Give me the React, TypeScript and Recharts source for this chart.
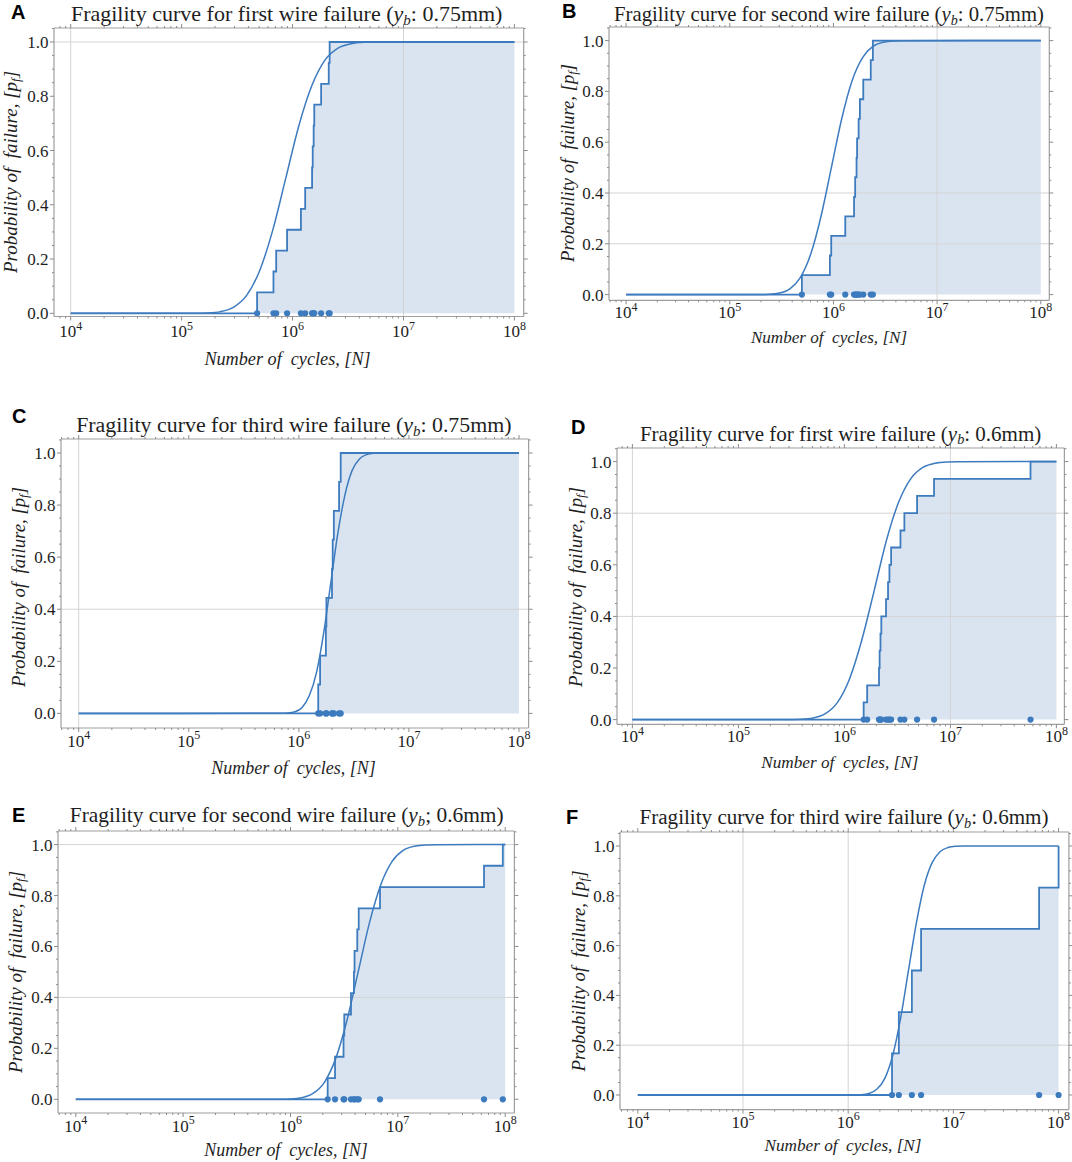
import React from 'react';
import { ComposedChart, XAxis, YAxis, Line, Area, Scatter, ReferenceLine } from 'recharts';

// probabilities reached by the fitted curves at the cycle counts listed in *_FIT
const FIT_PF = [0, 0.0002, 0.0013, 0.0062, 0.0228, 0.0668, 0.1587, 0.3085, 0.5, 0.6915, 0.8413, 0.9332, 0.9772, 0.9938, 0.9987, 0.9998, 1];

// A: first wire, 0.75mm
const A_CYCLES = [4.79e5, 6.73e5, 7.12e5, 8.93e5, 1.19e6, 1.3e6, 1.5e6, 1.52e6, 1.55e6, 1.57e6, 1.81e6, 2.12e6, 2.16e6];
const A_PF = [0.077, 0.154, 0.231, 0.308, 0.385, 0.462, 0.538, 0.615, 0.692, 0.769, 0.846, 0.923, 1.0];
const A_FIT = [1e4, 1.31e5, 1.72e5, 2.25e5, 2.95e5, 3.87e5, 5.07e5, 6.65e5, 8.71e5, 1.14e6, 1.5e6, 1.96e6, 2.57e6, 3.37e6, 4.42e6, 5.79e6, 1e8];

// B: second wire, 0.75mm
const B_CYCLES = [4.96e5, 9.24e5, 9.52e5, 1.3e6, 1.58e6, 1.62e6, 1.67e6, 1.69e6, 1.75e6, 1.8e6, 1.94e6, 2.29e6, 2.4e6];
const B_PF = [0.077, 0.154, 0.231, 0.308, 0.385, 0.462, 0.538, 0.615, 0.692, 0.769, 0.846, 0.923, 1.0];
const B_FIT = [1e4, 1.91e5, 2.4e5, 3.02e5, 3.8e5, 4.79e5, 6.03e5, 7.59e5, 9.55e5, 1.2e6, 1.51e6, 1.91e6, 2.4e6, 3.02e6, 3.8e6, 4.79e6, 1e8];

// C: third wire, 0.75mm
const C_CYCLES = [1.5e6, 1.56e6, 1.76e6, 1.78e6, 2.0e6, 2.03e6, 2.08e6, 2.32e6, 2.4e6];
const C_PF = [0.111, 0.222, 0.333, 0.444, 0.556, 0.667, 0.778, 0.889, 1.0];
const C_FIT = [1e4, 6.84e5, 7.94e5, 9.23e5, 1.07e6, 1.24e6, 1.45e6, 1.68e6, 1.95e6, 2.26e6, 2.63e6, 3.05e6, 3.55e6, 4.12e6, 4.79e6, 5.56e6, 1e8];

// D: first wire, 0.6mm
const D_CYCLES = [1.52e6, 1.64e6, 2.12e6, 2.15e6, 2.19e6, 2.23e6, 2.47e6, 2.58e6, 2.66e6, 2.76e6, 3.38e6, 3.68e6, 4.85e6, 7.01e6, 5.7e7];
const D_PF = [0.067, 0.133, 0.2, 0.267, 0.333, 0.4, 0.467, 0.533, 0.6, 0.667, 0.733, 0.8, 0.867, 0.933, 1.0];
const D_FIT = [1e4, 2.99e5, 3.89e5, 5.07e5, 6.61e5, 8.61e5, 1.12e6, 1.46e6, 1.91e6, 2.48e6, 3.24e6, 4.22e6, 5.5e6, 7.16e6, 9.33e6, 1.22e7, 1e8];

// E: second wire, 0.6mm
const E_CYCLES = [2.22e6, 2.6e6, 3.12e6, 3.17e6, 3.66e6, 3.9e6, 3.95e6, 4.19e6, 4.32e6, 6.82e6, 6.35e7, 9.5e7];
const E_PF = [0.083, 0.167, 0.25, 0.333, 0.417, 0.5, 0.583, 0.667, 0.75, 0.833, 0.917, 1.0];
const E_FIT = [1e4, 7.85e5, 1.0e6, 1.27e6, 1.62e6, 2.07e6, 2.63e6, 3.35e6, 4.27e6, 5.43e6, 6.92e6, 8.81e6, 1.12e7, 1.43e7, 1.82e7, 2.32e7, 1e8];

// F: third wire, 0.6mm
const F_CYCLES = [2.61e6, 3.03e6, 4.03e6, 4.93e6, 6.53e7, 1.0e8];
const F_PF = [0.167, 0.333, 0.5, 0.667, 0.833, 1.0];
const F_FIT = [1e4, 1.12e6, 1.33e6, 1.58e6, 1.87e6, 2.23e6, 2.65e6, 3.15e6, 3.74e6, 4.45e6, 5.28e6, 6.28e6, 7.46e6, 8.87e6, 1.05e7, 1.25e7, 1e8];

const X_START = 1e4;
const X_END = 1e8;
const X_DECADES = [1e3, 1e4, 1e5, 1e6, 1e7, 1e8];
const X_MINOR = [1, 2, 3, 4, 5, 6, 7, 8, 9];
const Y_TICKS = [0, 0.05, 0.1, 0.15, 0.2, 0.25, 0.3, 0.35, 0.4, 0.45, 0.5, 0.55, 0.6, 0.65, 0.7, 0.75, 0.8, 0.85, 0.9, 0.95, 1.0, 1.05];

const BLUE = '#3d7bbf';
const FILL = '#6690c4';
const FRAME = '#9e9e9e';
const TICK = '#8c8c8c';
const GRID = '#d4d4d4';
const INK = '#1e1e1e';
const SERIF = '"Liberation Serif", "DejaVu Serif", serif';
const SANS = '"Liberation Sans", Arial, sans-serif';

// each panel came from a separately scaled image, so text sizes differ slightly
const PANELS = [
  {
    letter: 'A', order: 'first', size: '0.75mm', sep: ':', cycles: A_CYCLES, pf: A_PF, fit: A_FIT,
    fx0: 53.6, fx1: 523.3, fy0: 28, fy1: 316.5, x4: 70.3, x8: 514, y1: 42, y0: 313.3,
    vGrid: [1e4, 1e7], hGrid: [1.0], labelDy: 21,
    titleSize: 22, xTitleSize: 18.2, yTitleSize: 19,
    letterPos: [11, 12], titlePos: [286.7, 14], xTitlePos: [287.5, 359], yTitlePos: [10.3, 171.7],
  },
  {
    letter: 'B', order: 'second', size: '0.75mm', sep: ':', cycles: B_CYCLES, pf: B_PF, fit: B_FIT,
    fx0: 608.7, fx1: 1049, fy0: 26.7, fy1: 300, x4: 625.8, x8: 1040.5, y1: 40.3, y0: 294.3,
    vGrid: [1e7], hGrid: [0.2, 0.4], labelDy: 18,
    titleSize: 20.7, xTitleSize: 17.1, yTitleSize: 18.6,
    letterPos: [562, 11], titlePos: [829, 14], xTitlePos: [829, 337.5], yTitlePos: [568.4, 163.3],
  },
  {
    letter: 'C', order: 'third', size: '0.75mm', sep: ':', cycles: C_CYCLES, pf: C_PF, fit: C_FIT,
    fx0: 60.8, fx1: 528.4, fy0: 439.3, fy1: 728.3, x4: 78.5, x8: 518.8, y1: 453.3, y0: 713.7,
    vGrid: [1e4], hGrid: [0.4], labelDy: 19,
    titleSize: 21.9, xTitleSize: 18, yTitleSize: 18.8,
    letterPos: [12, 416], titlePos: [293.9, 425], xTitlePos: [293.5, 767.5], yTitlePos: [18.8, 586.7],
  },
  {
    letter: 'D', order: 'first', size: '0.6mm', sep: ':', cycles: D_CYCLES, pf: D_PF, fit: D_FIT,
    fx0: 616.6, fx1: 1064, fy0: 447.7, fy1: 724, x4: 632, x8: 1056, y1: 461.3, y0: 719.3,
    vGrid: [1e4, 1e7], hGrid: [0.4, 0.8], labelDy: 18,
    titleSize: 21, xTitleSize: 17.2, yTitleSize: 18.8,
    letterPos: [571, 426.7], titlePos: [840.6, 434], xTitlePos: [839.8, 762.5], yTitlePos: [576.3, 586.7],
  },
  {
    letter: 'E', order: 'second', size: '0.6mm', sep: ';', cycles: E_CYCLES, pf: E_PF, fit: E_FIT,
    fx0: 58, fx1: 514.4, fy0: 830.7, fy1: 1112.7, x4: 75.8, x8: 505.2, y1: 844.3, y0: 1099,
    vGrid: [], hGrid: [1.0, 0.4], labelDy: 19,
    titleSize: 21.4, xTitleSize: 17.9, yTitleSize: 19,
    letterPos: [12, 815], titlePos: [286.7, 816], xTitlePos: [286, 1151], yTitlePos: [15.4, 971.7],
  },
  {
    letter: 'F', order: 'third', size: '0.6mm', sep: ':', cycles: F_CYCLES, pf: F_PF, fit: F_FIT,
    fx0: 619.6, fx1: 1068.5, fy0: 831.7, fy1: 1109.3, x4: 637.4, x8: 1058.2, y1: 845.7, y0: 1094.7,
    vGrid: [1e5, 1e6], hGrid: [0.2], labelDy: 18,
    titleSize: 21.1, xTitleSize: 17.2, yTitleSize: 18.9,
    letterPos: [566, 817], titlePos: [844, 817.5], xTitlePos: [843, 1145.8], yTitlePos: [578.6, 970.8],
  },
];

const isDecade = (v: number) => Math.abs(Math.log10(v) - Math.round(Math.log10(v))) < 1e-6;
const isMajorY = (v: number) => Math.abs(v * 5 - Math.round(v * 5)) < 1e-6;

const BottomTick = ({ x, y, payload, labelDy }: any) => {
  const v = payload.value;
  const major = isDecade(v);
  return (
    <g>
      <line x1={x} x2={x} y1={y} y2={y + (major ? 4 : 2)} stroke={TICK} />
      {major && (
        <text x={x} y={y + labelDy} textAnchor="middle" fontSize={17} fill={INK} fontFamily={SERIF}>
          10<tspan dy={-7.5} fontSize={12}>{Math.round(Math.log10(v))}</tspan>
        </text>
      )}
    </g>
  );
};

const TopTick = ({ x, y, payload }: any) => {
  const major = isDecade(payload.value);
  return <line x1={x} x2={x} y1={y} y2={y - (major ? 4 : 2)} stroke={TICK} />;
};

const LeftTick = ({ x, y, payload }: any) => {
  const v = payload.value;
  const major = isMajorY(v);
  return (
    <g>
      <line x1={x} x2={x - (major ? 4 : 2)} y1={y} y2={y} stroke={TICK} />
      {major && v <= 1.0001 && (
        <text x={x - 5.5} y={y + 6} textAnchor="end" fontSize={17} fill={INK} fontFamily={SERIF}>
          {v.toFixed(1)}
        </text>
      )}
    </g>
  );
};

const RightTick = ({ x, y, payload }: any) => {
  const major = isMajorY(payload.value);
  return <line x1={x} x2={x + (major ? 4 : 2)} y1={y} y2={y} stroke={TICK} />;
};

const Dot = (props: any) => <circle cx={props.cx} cy={props.cy} r={3.1} fill={BLUE} />;

const Sub = ({ children }: { children: React.ReactNode }) => (
  <span style={{ fontSize: '0.68em', verticalAlign: '-0.28em', lineHeight: 0 }}>{children}</span>
);

const centered = (pos: number[], extra: React.CSSProperties = {}): React.CSSProperties => ({
  position: 'absolute',
  left: pos[0],
  top: pos[1],
  transform: 'translate(-50%, -50%)',
  whiteSpace: 'nowrap',
  lineHeight: 1,
  color: INK,
  ...extra,
});

function Panel({ p }: { p: (typeof PANELS)[number] }) {
  const L = 60, R = 10, T = 10, B = 36;
  const w = p.fx1 - p.fx0;
  const h = p.fy1 - p.fy0;
  const dec = (p.x8 - p.x4) / 4;
  const xDomain = [10 ** (4 - (p.x4 - p.fx0) / dec), 10 ** (8 + (p.fx1 - p.x8) / dec)];
  const unit = p.y0 - p.y1;
  const yDomain = [-(p.fy1 - p.y0) / unit, 1 + (p.y1 - p.fy0) / unit];

  const xTicks = X_DECADES.flatMap((d) => X_MINOR.map((m) => d * m)).filter(
    (v) => v >= xDomain[0] && v <= xDomain[1]
  );
  const yTicks = Y_TICKS.filter((v) => v >= yDomain[0] && v <= yDomain[1]);

  const failures = p.cycles.map((c, i) => ({ x: c, y: p.pf[i] }));
  const last = p.cycles[p.cycles.length - 1];
  const tail = last < X_END ? [{ x: X_END, y: 1 }] : [];
  const stepData = [{ x: X_START, y: 0 }, ...failures, ...tail];
  const areaData = [...failures, ...tail];
  const fitData = p.fit.map((c, i) => ({ x: c, y: FIT_PF[i] }));
  const dotData = p.cycles.map((c) => ({ x: c, y: 0 }));

  return (
    <>
      <div style={{ position: 'absolute', left: p.fx0 - L, top: p.fy0 - T }}>
        <ComposedChart width={w + L + R} height={h + T + B} margin={{ top: 0, right: 0, bottom: 0, left: 0 }}>
          <XAxis
            dataKey="x" type="number" scale="log" domain={xDomain} allowDataOverflow
            ticks={xTicks} interval={0} height={B} tickSize={0} tickMargin={0}
            axisLine={{ stroke: FRAME, strokeWidth: 1.2 }} tickLine={false}
            tick={(props: any) => <BottomTick {...props} labelDy={p.labelDy} />}
          />
          <XAxis
            xAxisId="top" orientation="top" dataKey="x" type="number" scale="log" domain={xDomain}
            allowDataOverflow ticks={xTicks} interval={0} height={T} tickSize={0} tickMargin={0}
            axisLine={{ stroke: FRAME, strokeWidth: 1.2 }} tickLine={false}
            tick={(props: any) => <TopTick {...props} />}
          />
          <YAxis
            type="number" domain={yDomain} allowDataOverflow ticks={yTicks} interval={0} width={L}
            tickSize={0} tickMargin={0} axisLine={{ stroke: FRAME, strokeWidth: 1.2 }} tickLine={false}
            tick={(props: any) => <LeftTick {...props} />}
          />
          <YAxis
            yAxisId="right" orientation="right" type="number" domain={yDomain} allowDataOverflow
            ticks={yTicks} interval={0} width={R} tickSize={0} tickMargin={0}
            axisLine={{ stroke: FRAME, strokeWidth: 1.2 }} tickLine={false}
            tick={(props: any) => <RightTick {...props} />}
          />
          {p.vGrid.map((v) => (
            <ReferenceLine key={`v${v}`} x={v} stroke={GRID} strokeWidth={1} />
          ))}
          {p.hGrid.map((v) => (
            <ReferenceLine key={`h${v}`} y={v} stroke={GRID} strokeWidth={1} />
          ))}
          <Area
            data={areaData} dataKey="y" type="stepAfter" stroke="none" fill={FILL}
            fillOpacity={0.24} isAnimationActive={false}
          />
          <Line
            data={fitData} dataKey="y" type="monotone" stroke={BLUE} strokeWidth={1.5}
            dot={false} isAnimationActive={false}
          />
          <Line
            data={stepData} dataKey="y" type="stepAfter" stroke={BLUE} strokeWidth={1.8}
            dot={false} isAnimationActive={false}
          />
          <Scatter data={dotData} dataKey="y" fill={BLUE} shape={Dot} isAnimationActive={false} />
        </ComposedChart>
      </div>

      <div style={centered(p.letterPos, { transform: 'translate(0, -50%)', fontFamily: SANS, fontWeight: 700, fontSize: 20, color: '#000' })}>
        {p.letter}
      </div>
      <div style={centered(p.titlePos, { fontFamily: SERIF, fontSize: p.titleSize })}>
        Fragility curve for {p.order} wire failure (<i>y</i>
        <Sub><i>b</i></Sub>
        {p.sep} {p.size})
      </div>
      <div style={centered(p.xTitlePos, { fontFamily: SERIF, fontSize: p.xTitleSize, fontStyle: 'italic' })}>
        Number of&nbsp; cycles, [N]
      </div>
      <div
        style={centered(p.yTitlePos, {
          fontFamily: SERIF, fontSize: p.yTitleSize, fontStyle: 'italic',
          transform: 'translate(-50%, -50%) rotate(-90deg)',
        })}
      >
        Probability of&nbsp; failure, [p<Sub>f</Sub>]
      </div>
    </>
  );
}

export default function App() {
  return (
    <div
      style={{
        position: 'absolute', left: 0, top: 0, width: 1072, height: 1162,
        background: '#fff', overflow: 'hidden', fontFamily: SERIF,
      }}
    >
      {PANELS.map((p) => (
        <Panel key={p.letter} p={p} />
      ))}
    </div>
  );
}
